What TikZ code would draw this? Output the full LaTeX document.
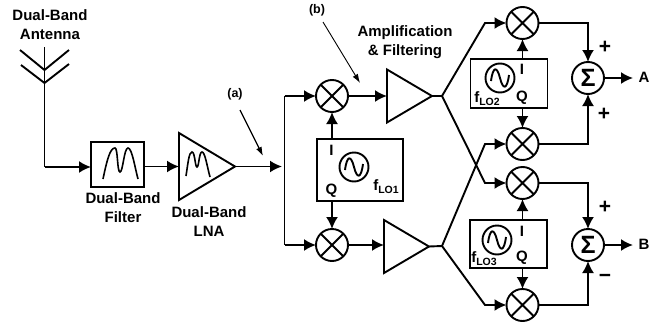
\documentclass[tikz,border=0pt]{standalone}
\usepackage{fontspec}
\setmainfont{Liberation Sans}
\usetikzlibrary{calc,positioning,arrows.meta,shapes.geometric}
\newcommand{\flo}[1]{f\raisebox{-2.5pt}{\fontsize{10.5}{11}\selectfont\bfseries LO#1}}
\tikzset{
  wire/.style={line width=1.9pt},
  sig/.style={wire,-{Latex[length=12pt,width=12pt]}},
  thinarrow/.style={line width=1.2pt,-{Latex[length=9pt,width=6pt]}},
  lbl/.style={font=\fontsize{15}{19}\selectfont\bfseries,align=center,inner sep=0pt},
  tag/.style={font=\fontsize{12.5}{15}\selectfont\bfseries,inner sep=0pt},
  sgn/.style={font=\fontsize{21}{22}\selectfont\bfseries,inner sep=0pt},
  mixer/.style={circle,draw,wire,minimum size=32pt,inner sep=0pt,outer sep=0pt,
    path picture={\draw[wire] (path picture bounding box.north west) -- (path picture bounding box.south east)
      (path picture bounding box.north east) -- (path picture bounding box.south west);}},
  summer/.style={circle,draw,wire,minimum size=32pt,inner sep=0pt,outer sep=0pt,
    font=\fontsize{25}{25}\selectfont\bfseries},
  osc/.style={circle,draw,wire,minimum size=29pt,inner sep=0pt,outer sep=0pt,
    path picture={\draw[wire,shift={(path picture bounding box.center)}] (-9,3)
      .. controls (-7,-12) and (-3,-12) .. (0,0) .. controls (3,12) and (7,12) .. (9,-3);}},
  lobox/.style={rectangle,draw,wire,inner sep=0pt,outer sep=0pt},
  amp/.style={isosceles triangle,isosceles triangle stretches,draw,wire,inner sep=0pt,outer sep=0pt,
    minimum height=45pt,minimum width=53pt,anchor=lower side},
}

\begin{document}
\begin{tikzpicture}[x=1pt,y=-1pt]
  \useasboundingbox (0,0) rectangle (654,327);
  % antenna
  \coordinate (anttop) at (44.5,47);
  \coordinate (ant1) at (44.5,70);
  \coordinate (ant2) at (44.5,83);
  \coordinate (antbend) at (44.5,167);
  \draw[wire] (20,50) -- (ant1) -- (69,50);
  \draw[wire] (21,65) -- (ant2) -- (69,64);
  \draw[wire] (anttop) -- (antbend);
  \node[lbl] (antlbl) at (50,25) {Dual-Band\\Antenna};
  % filter and LNA
  \node[lobox,minimum width=53pt,minimum height=45pt] (filt) at (117.5,164.5) {};
  \draw[wire,line width=1.6pt] (103,179) .. controls (107,160) and (110,148) .. (115,148)
    .. controls (118,148) and (117,172) .. (120,172) .. controls (123,172) and (124,148) .. (128,148)
    .. controls (132,148) and (135,168) .. (138,179);
  \node[lbl] (filtlbl) at (123,207.5) {Dual-Band\\Filter};
  \node[amp,minimum height=56pt,minimum width=67pt] (lna) at (179,166.5) {};
  \draw[wire,line width=1.6pt] (186,176) .. controls (188,163) and (189,152) .. (192,152)
    .. controls (195,152) and (195,167) .. (197,167) .. controls (199,167) and (199,152) .. (202,152)
    .. controls (205,152) and (207,166) .. (210,177);
  \node[lbl] (lnalbl) at (209,221.5) {Dual-Band\\LNA};
  \coordinate (split) at (282,166.5);
  \draw[sig] (antbend) -- (filt.west |- antbend);
  \draw[sig] (filt.east |- lna.lower side) -- (lna.lower side);
  \draw[sig] (lna.apex) -- (split);
  \node[tag] (a) at (235,94) {(a)};
  \coordinate (aend) at (263,156);
  \draw[thinarrow] (240,110) -- (aend);
  % first down conversion
  \node[mixer] (mix1) at (332,96) {};
  \node[mixer] (mix2) at (332,245) {};
  \node[lobox,minimum width=86pt,minimum height=62pt] (lo1) at (360,170) {};
  \node[osc] (osc1) at (354,167) {};
  \node[lbl] (i1) at (331.5,150) {I};
  \node[lbl] (q1) at (331.5,191) {Q};
  \node[lbl] (f1) at (386,186.5) {\flo{1}};
  \coordinate (rail) at (284.5,170);
  \draw[sig] (rail |- mix1) -- (mix1.west);
  \draw[sig] (rail |- mix2) -- (mix2.west);
  \draw[wire] (rail |- mix1) -- (rail |- mix2);
  \draw[sig] (mix1.south |- lo1.north) -- (mix1.south);
  \draw[sig] (mix2.north |- lo1.south) -- (mix2.north);
  \node[amp] (amp1) at (387,96) {};
  \node[amp] (amp2) at (384,246.5) {};
  \draw[sig] (mix1.east) -- (amp1.lower side);
  \draw[sig] (mix2.east) -- (amp2.lower side |- mix2.east);
  \node[tag] (b) at (317,10) {(b)};
  \coordinate (bend) at (360,83);
  \draw[thinarrow,line width=0.9pt] (323,22) -- (bend);
  \node[lbl] (amplbl) at (405,42) {Amplification\\\& Filtering};
  % second down conversion
  \node[mixer] (mix3) at (522.5,23) {};
  \node[mixer] (mix4) at (522.5,144) {};
  \node[mixer] (mix5) at (522.5,183) {};
  \node[mixer] (mix6) at (522.5,305) {};
  \node[lobox,minimum width=77pt,minimum height=49pt] (lo2) at (509,83.5) {};
  \node[lobox,minimum width=77.5pt,minimum height=48pt] (lo3) at (508.5,244) {};
  \node[osc] (osc2) at (500,78) {};
  \node[osc] (osc3) at (497,240) {};
  \node[lbl] (i2) at (522,69) {I};
  \node[lbl] (q2) at (522,98) {Q};
  \node[lbl] (f2) at (487,98.5) {\flo{2}};
  \node[lbl] (i3) at (522,231) {I};
  \node[lbl] (q3) at (522,258) {Q};
  \node[lbl] (f3) at (484,258.5) {\flo{3}};
  \draw[sig] (mix3.south |- lo2.north) -- (mix3.south);
  \draw[sig] (mix4.north |- lo2.south) -- (mix4.north);
  \draw[sig] (mix5.south |- lo3.north) -- (mix5.south);
  \draw[sig] (mix6.north |- lo3.south) -- (mix6.north);
  \coordinate (fork1) at (442,96);
  \coordinate (fork2) at (442,246);
  \draw[wire] (amp1.apex) -- (fork1);
  \draw[wire] (amp2.apex) -- (fork2);
  \draw[sig] (fork1) -- (485,23) -- (mix3.west);
  \draw[sig] (fork1) -- (485,183) -- (mix5.west);
  \draw[sig] (fork2) -- (485,144) -- (mix4.west);
  \draw[sig] (fork2) -- (485,305) -- (mix6.west);
  % summers and outputs
  \node[summer] (sum1) at (588,78) {Σ};
  \node[summer] (sum2) at (588,245) {Σ};
  \draw[sig] (mix3.east) -| (sum1.north);
  \draw[sig] (mix4.east) -| (sum1.south);
  \draw[sig] (mix5.east) -| (sum2.north);
  \draw[sig] (mix6.east) -| (sum2.south);
  \node[sgn] (p1) at (605,47) {+};
  \node[sgn] (p2) at (604,114) {+};
  \node[sgn] (p3) at (605,207) {+};
  \node[sgn] (m1) at (605,278) {\textminus};
  \node[lbl] (outa) at (644,77) {A};
  \node[lbl] (outb) at (644,244) {B};
  \coordinate (enda) at (633,78);
  \coordinate (endb) at (633,245);
  \draw[sig] (sum1.east) -- (enda);
  \draw[sig] (sum2.east) -- (endb);
\end{tikzpicture}
\end{document}
